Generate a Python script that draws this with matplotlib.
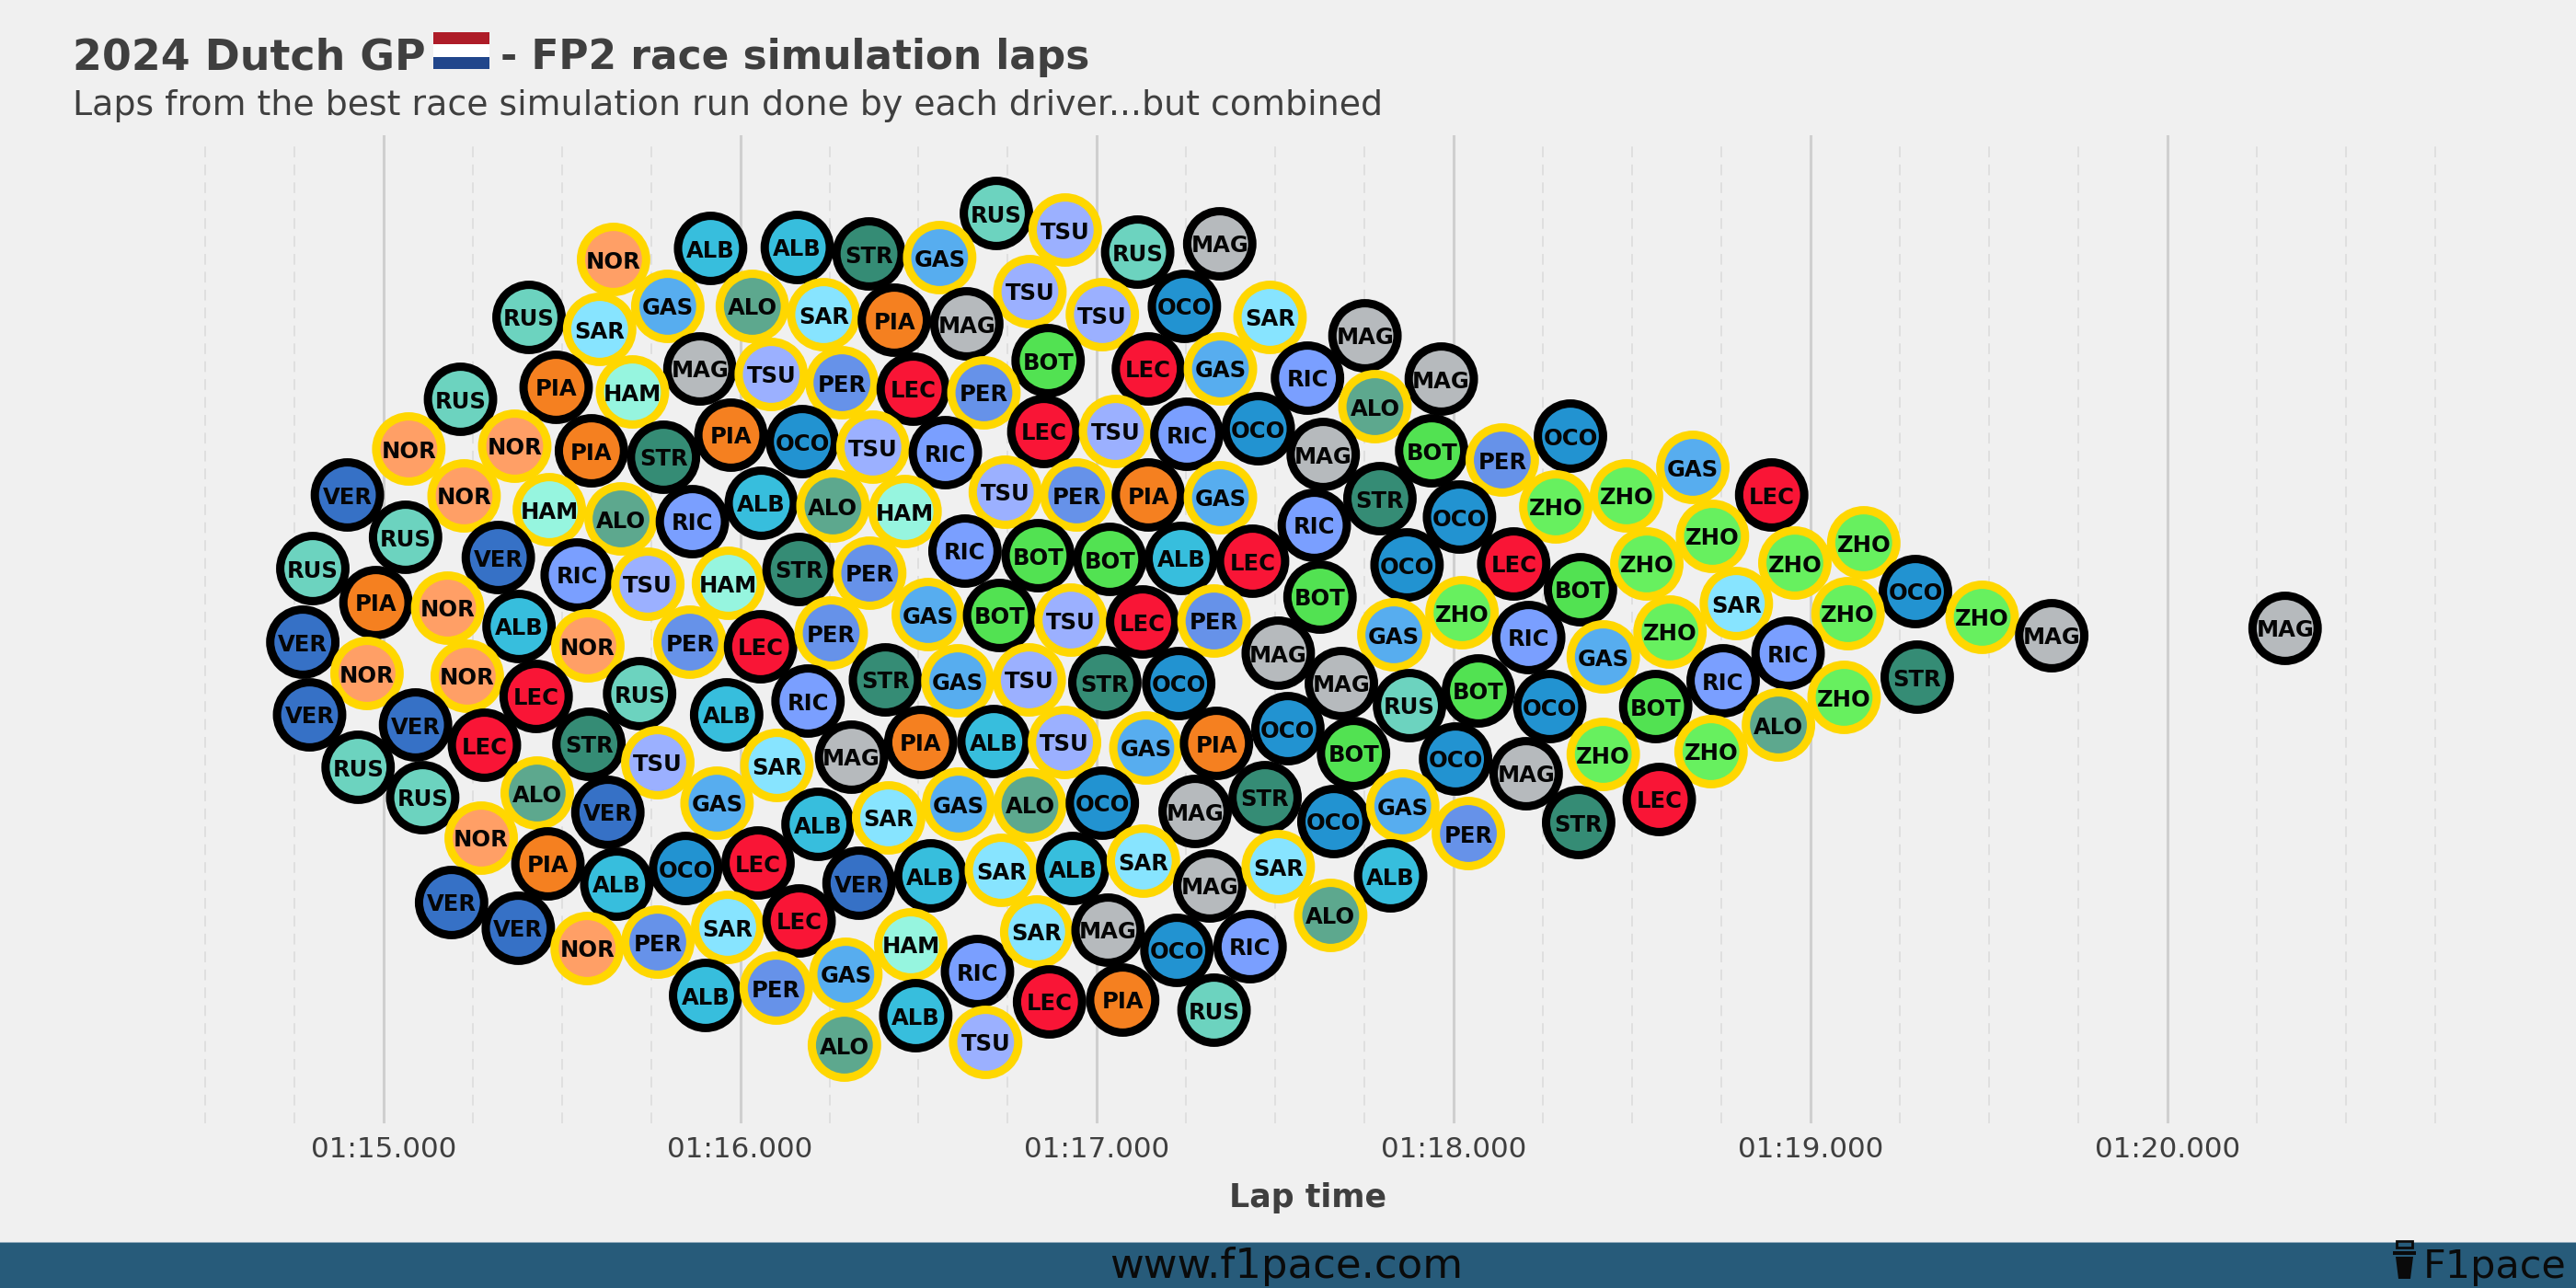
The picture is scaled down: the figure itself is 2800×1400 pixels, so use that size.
import matplotlib
matplotlib.use("Agg")
import matplotlib.pyplot as plt
from matplotlib.patches import Rectangle, Polygon

drivers = """RUS TSU RUS MAG NOR ALB ALB STR GAS TSU RUS SAR GAS ALO SAR PIA MAG TSU OCO SAR
MAG BOT TSU PER LEC PER LEC GAS RUS PIA HAM NOR NOR PIA STR PIA OCO TSU RIC LEC
TSU RIC OCO VER NOR HAM ALO RIC ALB ALO HAM TSU PER PIA GAS RUS VER RIC TSU HAM
STR PER RIC BOT BOT ALB LEC RUS PIA NOR ALB GAS BOT TSU LEC PER VER NOR PER LEC
PER MAG NOR NOR RUS LEC VER VER LEC ALB RIC STR GAS TSU STR OCO STR TSU SAR MAG
PIA ALB TSU GAS PIA OCO RUS RUS ALO VER GAS ALB SAR GAS ALO OCO MAG STR NOR PIA
ALB OCO LEC VER ALB SAR ALB SAR MAG SAR VER VER NOR PER SAR LEC HAM RIC SAR MAG
OCO RIC GAS ALB PER ALB LEC PIA RUS ALO TSU MAG MAG RIC ALO MAG BOT PER OCO GAS
ZHO ZHO LEC STR RIC OCO ZHO OCO LEC BOT ZHO ZHO ZHO SAR BOT ZHO OCO ZHO ZHO ZHO
MAG MAG GAS RIC GAS MAG RUS BOT OCO BOT RIC RIC ALO ZHO STR BOT OCO MAG ZHO ZHO
LEC STR OCO GAS PER ALB ALO""".split()

lap_times = [
    76.718, 76.911, 77.114, 77.344, 75.645, 75.917, 76.160, 76.361, 76.559, 76.812,
    75.408, 75.606, 75.797, 76.034, 76.234, 76.432, 76.635, 77.015, 77.245, 77.485,
    75.887, 76.863, 76.087, 76.285, 76.485, 76.683, 77.144, 77.346, 75.216, 75.484,
    75.698, 75.071, 75.368, 75.583, 75.785, 75.974, 76.174, 76.372, 76.575, 76.851,
    77.052, 77.252, 77.452, 74.899, 75.226, 75.465, 75.666, 75.866, 76.059, 76.260,
    76.462, 76.743, 76.943, 77.144, 77.346, 75.062, 75.322, 75.543, 75.741, 75.967,
    76.165, 76.363, 76.630, 76.835, 77.036, 77.236, 77.436, 74.802, 74.979, 75.180,
    75.380, 76.527, 76.727, 76.927, 77.128, 77.328, 74.774, 75.573, 75.859, 76.057,
    76.255, 77.508, 74.954, 75.235, 75.718, 75.428, 74.793, 75.090, 75.283, 75.962,
    76.190, 76.407, 76.610, 76.810, 77.022, 77.229, 75.576, 75.769, 76.103, 76.312,
    76.506, 76.711, 76.909, 77.137, 77.335, 77.535, 74.929, 75.110, 75.431, 75.629,
    75.935, 76.218, 76.416, 76.612, 76.812, 77.015, 77.275, 77.471, 75.274, 75.461,
    75.654, 75.847, 76.050, 76.333, 76.534, 76.732, 76.932, 77.130, 77.316, 77.508,
    75.191, 75.378, 75.571, 75.769, 75.965, 76.165, 76.478, 76.665, 76.831, 77.031,
    77.224, 77.429, 76.296, 75.903, 76.101, 76.492, 76.867, 77.072, 77.328, 76.292,
    76.688, 77.751, 77.965, 77.590, 77.779, 77.634, 77.938, 78.136, 78.327, 78.670,
    78.484, 78.286, 78.891, 77.793, 77.609, 78.016, 78.725, 77.869, 78.168, 78.355,
    78.541, 78.956, 79.149, 78.792, 77.625, 78.023, 79.294, 79.481, 79.105, 78.606,
    79.676, 80.330, 77.832, 78.210, 78.419, 77.685, 77.876, 78.069, 78.269, 78.566,
    78.755, 78.937, 78.910, 79.094, 79.299, 77.719, 78.005, 78.203, 78.419, 78.721,
    78.576, 78.350, 77.664, 77.857, 78.041, 77.823, 77.655,
]

swarm_offsets = [
    452, 434, 410, 419, 402, 414, 415, 408, 404, 367,
    339, 326, 351, 351, 342, 336, 332, 342, 351, 339,
    283, 292, 277, 268, 261, 257, 283, 283, 250, 263,
    258, 196, 199, 194, 187, 211, 204, 198, 192, 215,
    215, 212, 218, 146, 145, 130, 120, 117, 137, 134,
    128, 149, 146, 146, 143, 100, 78, 59, 49, 50,
    65, 61, 85, 80, 76, 77, 74, 66, 29, 23,
    3, 16, 15, 10, 8, 9, -14, -18, -14, -19,
    -4, -26, -48, -51, -70, -73, -93, -104, -126, -93,
    -78, -55, -56, -55, -58, -59, -125, -145, -148, -139,
    -123, -122, -123, -129, -124, -108, -150, -183, -178, -199,
    -189, -212, -205, -190, -191, -189, -198, -183, -227, -255,
    -277, -260, -254, -276, -268, -262, -260, -252, -279, -258,
    -297, -325, -347, -340, -324, -317, -343, -372, -329, -327,
    -349, -345, -375, -398, -390, -420, -405, -403, -414, -452,
    -449, 319, 272, 273, 242, 190, 194, 184, 210, 176,
    145, 133, 146, 142, 113, 122, 101, 70, 71, 43,
    71, 72, 94, 28, 35, 18, 41, 13, 17, -3,
    -7, 1, -6, -9, -30, -59, -83, -67, -84, -84,
    -56, -26, -104, -74, -52, -135, -141, -157, -136, -133,
    -185, -210, -209, -192, -222, -268, -311,
]

driver_colors = {
    "VER": "#3671C6", "PER": "#6692E9", "LEC": "#F91536", "PIA": "#F58020",
    "NOR": "#FF9F66", "RUS": "#6CD3BF", "HAM": "#96F5DF", "ALB": "#37BEDD",
    "SAR": "#87E4FF", "OCO": "#2293D1", "GAS": "#57ADEF", "STR": "#358C75",
    "ALO": "#5DA88E", "TSU": "#9BB0FF", "RIC": "#7A9FFF", "BOT": "#52E252",
    "ZHO": "#67F05F", "MAG": "#B6BABD",
}
second_drivers = ["PER", "NOR", "HAM", "SAR", "GAS", "ALO", "TSU", "ZHO"]

major_ticks = [75, 76, 77, 78, 79, 80]
major_labels = ["01:15.000", "01:16.000", "01:17.000", "01:18.000", "01:19.000", "01:20.000"]
minor_ticks = [74.5, 74.75, 75.25, 75.5, 75.75, 76.25, 76.5, 76.75, 77.25, 77.5, 77.75,
               78.25, 78.5, 78.75, 79.25, 79.5, 79.75, 80.25, 80.5, 80.75]

BG = "#F0F0F0"
INK = "#3F3F3F"
W, H = 2800, 1400


def fx(px):
    return px / W


def fy(py):
    return 1 - py / H


fig = plt.figure(figsize=(28, 14), dpi=100, facecolor=BG)
ax = fig.add_axes([fx(79), fy(1221), fx(2763 - 79), (1221 - 147) / H], facecolor=BG)
ax.set_xlim(74.129, 81.050)
ax.set_ylim(-537, 537)
for s in ax.spines.values():
    s.set_visible(False)
ax.set_yticks([])
ax.set_xticks(major_ticks)
ax.set_xticklabels(major_labels, fontsize=22.3, color=INK)
ax.tick_params(axis="x", length=0, pad=10)
ax.xaxis.grid(True, which="major", color="#CFCFCF", lw=2.2, zorder=0)
ax.vlines(minor_ticks, -537, 530, colors="#DFDFDF", lw=1.4, linestyles=(0, (6, 4)), zorder=0)
ax.set_axisbelow(True)
ax.set_xlabel("Lap time", fontsize=25, fontweight="bold", color=INK, labelpad=15)

fills = [driver_colors[d] for d in drivers]
edges = ["#FFD700" if d in second_drivers else "#000000" for d in drivers]
ax.scatter(lap_times, swarm_offsets, s=2600, c=fills, edgecolors=edges, linewidths=6.5,
           zorder=3, clip_on=False)
for d, t, o in zip(drivers, lap_times, swarm_offsets):
    ax.text(t, o, d, ha="center", va="center_baseline", fontsize=17.5, fontweight="bold",
            color="#050505", zorder=4)

# Title and subtitle
fig.text(fx(79), fy(75), "2024 Dutch GP", fontsize=33, fontweight="bold", color=INK, ha="left", va="baseline")
fig.text(fx(544), fy(75), "- FP2 race simulation laps", fontsize=31.6, fontweight="bold", color=INK, ha="left", va="baseline")
fig.text(fx(79), fy(125), "Laps from the best race simulation run done by each driver...but combined",
         fontsize=27.25, color=INK, ha="left", va="baseline")

# Flag
for col, top in zip(["#AE1C28", "#FFFFFF", "#21468B"], [35, 48.3, 61.7]):
    fig.add_artist(Rectangle((fx(471), fy(top + 13.3)), fx(61), 13.3 / H, transform=fig.transFigure,
                             facecolor=col, edgecolor="none"))

# Footer band
fig.add_artist(Rectangle((0, 0), 1, 49 / H, transform=fig.transFigure, facecolor="#275B7A", edgecolor="none"))
fig.add_artist(Rectangle((0, 49 / H), 1, 1 / H, transform=fig.transFigure, facecolor="#8FA9BA", edgecolor="none"))
fig.text(fx(1398), fy(1377), "www.f1pace.com", fontsize=32.4, color="#0A0A0A", ha="center", va="center")
fig.text(fx(2790), fy(1377), "F1pace", fontsize=31, color="#0A0A0A", ha="right", va="center")

# Cup icon
fig.add_artist(Polygon([(fx(2604), fy(1366)), (fx(2623), fy(1366)), (fx(2620), fy(1390)), (fx(2607), fy(1390))],
                       closed=True, transform=fig.transFigure, facecolor="#0A0A0A", edgecolor="none"))
fig.add_artist(Rectangle((fx(2601), fy(1364)), fx(25), 4 / H, transform=fig.transFigure, facecolor="#0A0A0A", edgecolor="none"))
fig.add_artist(Rectangle((fx(2605), fy(1356)), fx(17), 7 / H, transform=fig.transFigure, facecolor="none", edgecolor="#0A0A0A", lw=2))

fig.savefig("out.png", dpi=100, facecolor=BG)
